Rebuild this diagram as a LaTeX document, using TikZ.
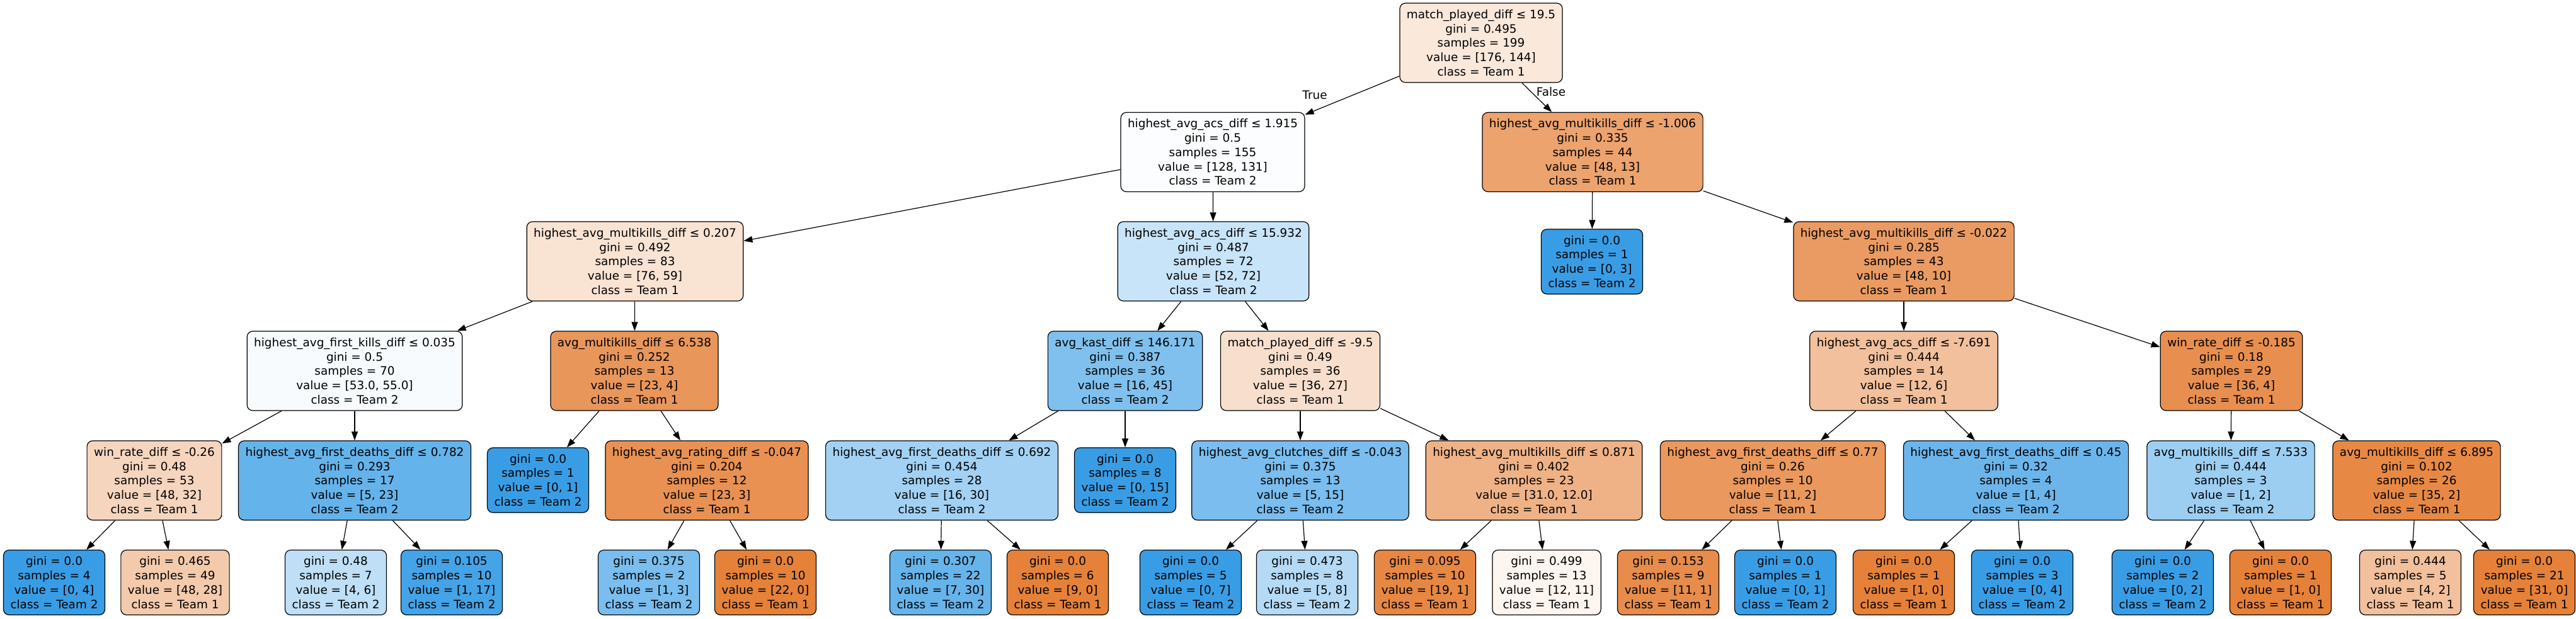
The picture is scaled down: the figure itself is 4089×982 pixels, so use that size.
\documentclass[tikz,border=0pt]{standalone}
\usepackage{fontspec}
\setmainfont{DejaVu Sans}
\usetikzlibrary{arrows.meta}
\definecolor{teamone}{RGB}{229,129,57}
\definecolor{teamtwo}{RGB}{57,157,229}
\newcommand{\stats}[4]{gini = #1\\ samples = #2\\ value = [#3]\\ class = Team #4}

\begin{document}
\begin{tikzpicture}[x=0.5pt, y=-0.5pt,
    box/.style={rectangle,draw=black,line width=0.6pt,rounded corners=4.5pt,
      inner xsep=5.5pt, inner ysep=0pt, minimum height=63pt, align=center,
      font=\fontsize{9.2pt}{11.4pt}\selectfont},
    leafbox/.style={box, minimum height=51.5pt},
    to/.style={->, >={Triangle[length=7pt,width=5pt]}, line width=0.6pt},
    lbl/.style={font=\fontsize{9.2pt}{11.4pt}\selectfont}]

  \useasboundingbox (0,0) rectangle (4089,982);

  % root and first split
  \node[box,fill=teamone!18] (n) at (2351,68) {match\_played\_diff ≤ 19.5\\ \stats{0.495}{199}{176, 144}{1}};
  \node[box,fill=teamtwo!2] (nl) at (1925,241.5) {highest\_avg\_acs\_diff ≤ 1.915\\ \stats{0.5}{155}{128, 131}{2}};
  \node[box,fill=teamone!73] (nr) at (2528,241.5) {highest\_avg\_multikills\_diff ≤ -1.006\\ \stats{0.335}{44}{48, 13}{1}};
  \node[lbl] (truelbl) at (2087,151) {True};
  \node[lbl] (falselbl) at (2462,146) {False};

  % depth 2
  \node[box,fill=teamone!22] (nll) at (1008,415) {highest\_avg\_multikills\_diff ≤ 0.207\\ \stats{0.492}{83}{76, 59}{1}};
  \node[box,fill=teamtwo!28] (nlr) at (1926,415) {highest\_avg\_acs\_diff ≤ 15.932\\ \stats{0.487}{72}{52, 72}{2}};
  \node[leafbox,fill=teamtwo] (nrl) at (2527,415.5) {\stats{0.0}{1}{0, 3}{2}};
  \node[box,fill=teamone!79] (nrr) at (3022,415) {highest\_avg\_multikills\_diff ≤ -0.022\\ \stats{0.285}{43}{48, 10}{1}};

  % depth 3
  \node[box,fill=teamtwo!4] (nlll) at (563,589) {highest\_avg\_first\_kills\_diff ≤ 0.035\\ \stats{0.5}{70}{53.0, 55.0}{2}};
  \node[box,fill=teamone!83] (nllr) at (1007,589) {avg\_multikills\_diff ≤ 6.538\\ \stats{0.252}{13}{23, 4}{1}};
  \node[box,fill=teamtwo!64] (nlrl) at (1786,589) {avg\_kast\_diff ≤ 146.171\\ \stats{0.387}{36}{16, 45}{2}};
  \node[box,fill=teamone!25] (nlrr) at (2064,589) {match\_played\_diff ≤ -9.5\\ \stats{0.49}{36}{36, 27}{1}};
  \node[box,fill=teamone!50] (nrrl) at (3022,589) {highest\_avg\_acs\_diff ≤ -7.691\\ \stats{0.444}{14}{12, 6}{1}};
  \node[box,fill=teamone!89] (nrrr) at (3542,589) {win\_rate\_diff ≤ -0.185\\ \stats{0.18}{29}{36, 4}{1}};

  % depth 4
  \node[box,fill=teamone!33] (nllll) at (245,763) {win\_rate\_diff ≤ -0.26\\ \stats{0.48}{53}{48, 32}{1}};
  \node[box,fill=teamtwo!78] (nlllr) at (563,763) {highest\_avg\_first\_deaths\_diff ≤ 0.782\\ \stats{0.293}{17}{5, 23}{2}};
  \node[leafbox,fill=teamtwo] (nllrl) at (854,762.5) {\stats{0.0}{1}{0, 1}{2}};
  \node[box,fill=teamone!87] (nllrr) at (1122,763) {highest\_avg\_rating\_diff ≤ -0.047\\ \stats{0.204}{12}{23, 3}{1}};
  \node[box,fill=teamtwo!47] (nlrll) at (1495,763) {highest\_avg\_first\_deaths\_diff ≤ 0.692\\ \stats{0.454}{28}{16, 30}{2}};
  \node[leafbox,fill=teamtwo] (nlrlr) at (1786,762.5) {\stats{0.0}{8}{0, 15}{2}};
  \node[box,fill=teamtwo!67] (nlrrl) at (2064,763) {highest\_avg\_clutches\_diff ≤ -0.043\\ \stats{0.375}{13}{5, 15}{2}};
  \node[box,fill=teamone!61] (nlrrr) at (2435,763) {highest\_avg\_multikills\_diff ≤ 0.871\\ \stats{0.402}{23}{31.0, 12.0}{1}};
  \node[box,fill=teamone!82] (nrrll) at (2814,763) {highest\_avg\_first\_deaths\_diff ≤ 0.77\\ \stats{0.26}{10}{11, 2}{1}};
  \node[box,fill=teamtwo!75] (nrrlr) at (3200,763) {highest\_avg\_first\_deaths\_diff ≤ 0.45\\ \stats{0.32}{4}{1, 4}{2}};
  \node[box,fill=teamtwo!50] (nrrrl) at (3541,763) {avg\_multikills\_diff ≤ 7.533\\ \stats{0.444}{3}{1, 2}{2}};
  \node[box,fill=teamone!94] (nrrrr) at (3836,763) {avg\_multikills\_diff ≤ 6.895\\ \stats{0.102}{26}{35, 2}{1}};

  % leaves at depth 5
  \node[leafbox,fill=teamtwo] (nlllll) at (86,925) {\stats{0.0}{4}{0, 4}{2}};
  \node[leafbox,fill=teamone!42] (nllllr) at (278,925) {\stats{0.465}{49}{48, 28}{1}};
  \node[leafbox,fill=teamtwo!33] (nlllrl) at (533,925) {\stats{0.48}{7}{4, 6}{2}};
  \node[leafbox,fill=teamtwo!94] (nlllrr) at (717,925) {\stats{0.105}{10}{1, 17}{2}};
  \node[leafbox,fill=teamtwo!67] (nllrrl) at (1030,925) {\stats{0.375}{2}{1, 3}{2}};
  \node[leafbox,fill=teamone] (nllrrr) at (1215,925) {\stats{0.0}{10}{22, 0}{1}};
  \node[leafbox,fill=teamtwo!77] (nlrlll) at (1493,925) {\stats{0.307}{22}{7, 30}{2}};
  \node[leafbox,fill=teamone] (nlrllr) at (1679,925) {\stats{0.0}{6}{9, 0}{1}};
  \node[leafbox,fill=teamtwo] (nlrrll) at (1890,925) {\stats{0.0}{5}{0, 7}{2}};
  \node[leafbox,fill=teamtwo!38] (nlrrlr) at (2075,925) {\stats{0.473}{8}{5, 8}{2}};
  \node[leafbox,fill=teamone!95] (nlrrrl) at (2262,925) {\stats{0.095}{10}{19, 1}{1}};
  \node[leafbox,fill=teamone!8] (nlrrrr) at (2455,925) {\stats{0.499}{13}{12, 11}{1}};
  \node[leafbox,fill=teamone!91] (nrrlll) at (2648,925) {\stats{0.153}{9}{11, 1}{1}};
  \node[leafbox,fill=teamtwo] (nrrllr) at (2834,925) {\stats{0.0}{1}{0, 1}{2}};
  \node[leafbox,fill=teamone] (nrrlrl) at (3022,925) {\stats{0.0}{1}{1, 0}{1}};
  \node[leafbox,fill=teamtwo] (nrrlrr) at (3210,925) {\stats{0.0}{3}{0, 4}{2}};
  \node[leafbox,fill=teamtwo] (nrrrll) at (3433,925) {\stats{0.0}{2}{0, 2}{2}};
  \node[leafbox,fill=teamone] (nrrrlr) at (3620,925) {\stats{0.0}{1}{1, 0}{1}};
  \node[leafbox,fill=teamone!50] (nrrrrl) at (3826,925) {\stats{0.444}{5}{4, 2}{1}};
  \node[leafbox,fill=teamone] (nrrrrr) at (4007,925) {\stats{0.0}{21}{31, 0}{1}};

  % edges
  \path (n) edge[to] (nl);
  \path (n) edge[to] (nr);
  \path (nl) edge[to] (nll);
  \path (nl) edge[to] (nlr);
  \path (nr) edge[to] (nrl);
  \path (nr) edge[to] (nrr);
  \path (nll) edge[to] (nlll);
  \path (nll) edge[to] (nllr);
  \path (nlr) edge[to] (nlrl);
  \path (nlr) edge[to] (nlrr);
  \path (nrr) edge[to] (nrrl);
  \path (nrr) edge[to] (nrrr);
  \path (nlll) edge[to] (nllll);
  \path (nlll) edge[to] (nlllr);
  \path (nllr) edge[to] (nllrl);
  \path (nllr) edge[to] (nllrr);
  \path (nlrl) edge[to] (nlrll);
  \path (nlrl) edge[to] (nlrlr);
  \path (nlrr) edge[to] (nlrrl);
  \path (nlrr) edge[to] (nlrrr);
  \path (nrrl) edge[to] (nrrll);
  \path (nrrl) edge[to] (nrrlr);
  \path (nrrr) edge[to] (nrrrl);
  \path (nrrr) edge[to] (nrrrr);
  \path (nllll) edge[to] (nlllll);
  \path (nllll) edge[to] (nllllr);
  \path (nlllr) edge[to] (nlllrl);
  \path (nlllr) edge[to] (nlllrr);
  \path (nllrr) edge[to] (nllrrl);
  \path (nllrr) edge[to] (nllrrr);
  \path (nlrll) edge[to] (nlrlll);
  \path (nlrll) edge[to] (nlrllr);
  \path (nlrrl) edge[to] (nlrrll);
  \path (nlrrl) edge[to] (nlrrlr);
  \path (nlrrr) edge[to] (nlrrrl);
  \path (nlrrr) edge[to] (nlrrrr);
  \path (nrrll) edge[to] (nrrlll);
  \path (nrrll) edge[to] (nrrllr);
  \path (nrrlr) edge[to] (nrrlrl);
  \path (nrrlr) edge[to] (nrrlrr);
  \path (nrrrl) edge[to] (nrrrll);
  \path (nrrrl) edge[to] (nrrrlr);
  \path (nrrrr) edge[to] (nrrrrl);
  \path (nrrrr) edge[to] (nrrrrr);

\end{tikzpicture}
\end{document}
